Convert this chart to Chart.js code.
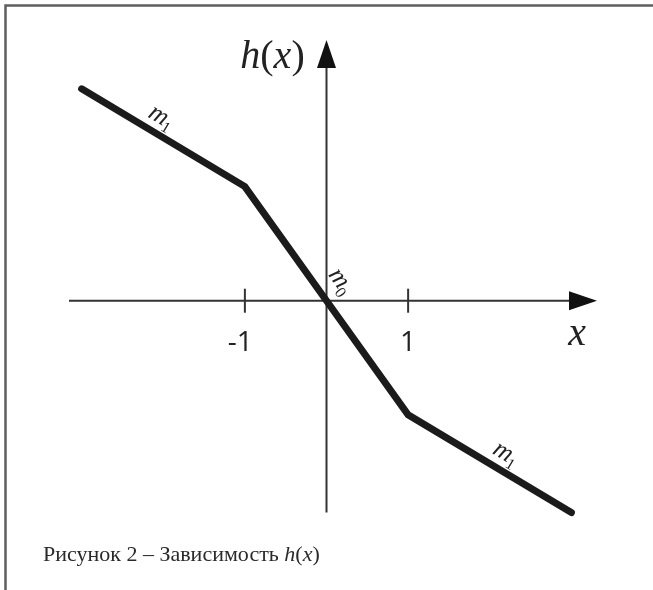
<!DOCTYPE html>
<html>
<head>
<meta charset="utf-8">
<script src="https://cdn.jsdelivr.net/npm/chart.js@4.4.1/dist/chart.umd.min.js"></script>
<style>
  html, body { margin: 0; padding: 0; background: #fff; }
  canvas { display: block; }
</style>
</head>
<body>
<canvas id="hx" width="653" height="590"></canvas>
<script>
// кусочно-линейная функция h(x)
const xValues = [-3, -1, 0, 1, 3];
const hValues = [2.6, 1.4, 0, -1.4, -2.6];
const xTickValues = [-1, 1];
const xTickLabels = ['-1', '1'];
// подписи наклонов: имя, индекс, номер отрезка
const slopeNames = ['m', 'm', 'm'];
const slopeIndex = ['1', '0', '1'];
const slopeSegment = [0, 1, 3];

const INK = '#1b1b1b';
const AXIS = '#333';

const points = xValues.map((x, i) => ({ x: x, y: hValues[i] }));

// текст из кусков: [строка, курсив?]
const drawRuns = (ctx, runs, x, y, size, align) => {
    const fontOf = (it) => (it ? 'italic ' : '') + size + 'px "Liberation Serif", serif';
    let total = 0;
    runs.forEach(([t, it]) => { ctx.font = fontOf(it); total += ctx.measureText(t).width; });
    let cx = align === 'center' ? x - total / 2 : x;
    ctx.textAlign = 'left';
    runs.forEach(([t, it]) => {
        ctx.font = fontOf(it);
        ctx.fillText(t, cx, y);
        cx += ctx.measureText(t).width;
    });
};

const axesPlugin = {
    id: 'axesPlugin',
    beforeDatasetsDraw(chart, args, opts) {
        const ctx = chart.ctx;
        const xs = chart.scales.x, ys = chart.scales.y;
        const ox = xs.getPixelForValue(0), oy = ys.getPixelForValue(0);
        const x0 = xs.getPixelForValue(opts.xFrom), x1 = xs.getPixelForValue(opts.xTo);
        const y0 = ys.getPixelForValue(opts.yFrom), y1 = ys.getPixelForValue(opts.yTo);
        const al = opts.arrowLen, aw = opts.arrowHalf;

        ctx.save();
        // рамка страницы
        ctx.strokeStyle = '#5e5e5e';
        ctx.lineWidth = 2.5;
        ctx.beginPath();
        ctx.moveTo(653, 5.5);
        ctx.lineTo(5.5, 5.5);
        ctx.lineTo(5.5, 590);
        ctx.stroke();

        // оси
        ctx.strokeStyle = AXIS;
        ctx.lineWidth = 2;
        ctx.beginPath();
        ctx.moveTo(x0, oy);
        ctx.lineTo(x1 - al + 2, oy);
        ctx.moveTo(ox, y0);
        ctx.lineTo(ox, y1 + al - 2);
        ctx.stroke();

        ctx.fillStyle = '#111';
        ctx.beginPath();
        ctx.moveTo(x1, oy);
        ctx.lineTo(x1 - al, oy - aw);
        ctx.lineTo(x1 - al, oy + aw);
        ctx.closePath();
        ctx.fill();
        ctx.beginPath();
        ctx.moveTo(ox, y1);
        ctx.lineTo(ox - aw, y1 + al);
        ctx.lineTo(ox + aw, y1 + al);
        ctx.closePath();
        ctx.fill();

        // деления и подписи
        ctx.strokeStyle = AXIS;
        ctx.lineWidth = 2;
        ctx.font = '28px "Open Sans", sans-serif';
        ctx.fillStyle = '#222';
        ctx.textBaseline = 'alphabetic';
        ctx.textAlign = 'right';
        const oneW = ctx.measureText('1').width;
        xTickValues.forEach((v, i) => {
            const px = xs.getPixelForValue(v);
            ctx.beginPath();
            ctx.moveTo(px, oy - 12);
            ctx.lineTo(px, oy + 12);
            ctx.stroke();
            ctx.fillText(xTickLabels[i], px + oneW / 2, oy + 50);
        });

        // названия осей
        ctx.fillStyle = '#222';
        ctx.textAlign = 'center';
        ctx.font = 'italic 40px "Liberation Serif", serif';
        ctx.fillText('x', x1 - 20, oy + 44);
        drawRuns(ctx, [['h', true], ['(', false], ['x', true], [')', false]], ox - 54, 68, 40, 'center');

        // подпись рисунка
        ctx.fillStyle = '#2a2a2a';
        drawRuns(ctx, [['Рисунок 2 – Зависимость ', false], ['h', true], ['(', false], ['x', true], [')', false]],
            43, 561, 22, 'left');
        ctx.restore();
    },
    afterDatasetsDraw(chart, args, opts) {
        const ctx = chart.ctx;
        const meta = chart.getDatasetMeta(0).data;
        ctx.save();
        ctx.fillStyle = '#222';
        ctx.textBaseline = 'alphabetic';
        slopeNames.forEach((name, i) => {
            const s = slopeSegment[i];
            const a = meta[s], b = meta[s + 1];
            const dx = b.x - a.x, dy = b.y - a.y;
            const len = Math.hypot(dx, dy);
            const ux = dx / len, uy = dy / len;
            const t = opts.labelT[i], off = opts.labelOffset[i];
            const px = a.x + dx * t + uy * off;
            const py = a.y + dy * t - ux * off;
            ctx.save();
            ctx.translate(px, py);
            ctx.rotate(Math.atan2(dy, dx));
            ctx.font = 'italic 26px "Liberation Serif", serif';
            const mw = ctx.measureText(name).width;
            ctx.font = '16px "Liberation Serif", serif';
            const iw = ctx.measureText(slopeIndex[i]).width;
            const start = -(mw + iw) / 2;
            ctx.textAlign = 'left';
            ctx.font = 'italic 26px "Liberation Serif", serif';
            ctx.fillText(name, start, 5);
            ctx.font = '16px "Liberation Serif", serif';
            ctx.fillText(slopeIndex[i], start + mw - 1, 10);
            ctx.restore();
        });
        ctx.restore();
    }
};

new Chart(document.getElementById('hx'), {
    type: 'line',
    data: {
        datasets: [{
            data: points,
            borderColor: INK,
            borderWidth: 7,
            borderCapStyle: 'round',
            borderJoinStyle: 'miter',
            pointRadius: 0,
            tension: 0,
            fill: false
        }]
    },
    options: {
        responsive: false,
        animation: false,
        devicePixelRatio: 1,
        layout: { padding: 0 },
        scales: {
            x: { type: 'linear', min: -4, max: 4, display: false },
            y: { type: 'linear', min: -3.55, max: 3.69, display: false }
        },
        plugins: {
            legend: { display: false },
            tooltip: { enabled: false },
            axesPlugin: {
                xFrom: -3.155, xTo: 3.314,
                yFrom: -2.6, yTo: 3.2,
                arrowLen: 28, arrowHalf: 9.5,
                labelT: [0.44, 0.95, 0.55],
                labelOffset: [15, 21, 15]
            }
        }
    },
    plugins: [axesPlugin]
});
</script>
</body>
</html>
